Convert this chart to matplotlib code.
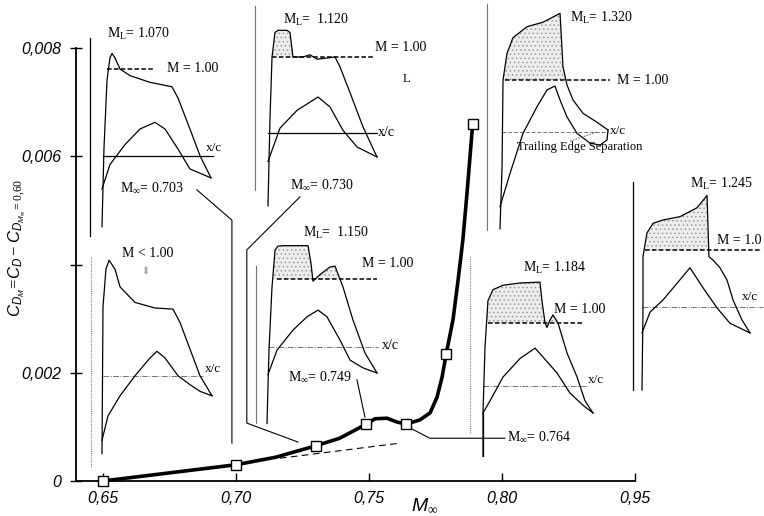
import numpy as np
import matplotlib.pyplot as plt

plt.rcParams['mathtext.fontset'] = 'custom'
plt.rcParams['mathtext.rm'] = 'Liberation Serif'
plt.rcParams['mathtext.it'] = 'Liberation Sans:italic'
plt.rcParams['hatch.linewidth'] = 0.6

# --- drag rise curve (main plot) ---
mach_pts = [0.65, 0.70, 0.73, 0.749, 0.764, 0.779, 0.789]
cdm_pts = [0.0, 0.0003, 0.00065, 0.00105, 0.00105, 0.00234, 0.0066]
mach_fair = [0.65, 0.675, 0.70, 0.715, 0.73, 0.739, 0.749, 0.7523, 0.7568, 0.7605,
             0.764, 0.7692, 0.773, 0.7756, 0.7775, 0.779, 0.7816, 0.7835, 0.7853, 0.787, 0.789]
cdm_fair = [0.0, 0.00015, 0.0003, 0.00044, 0.00065, 0.00079, 0.00105, 0.00115, 0.00116, 0.00109,
            0.00105, 0.00113, 0.00126, 0.00155, 0.00192, 0.00234, 0.00298, 0.00371, 0.00445, 0.0054, 0.0066]
mach_dash = [0.7165, 0.7617]
cdm_dash = [0.00042, 0.0007]
xtick_vals = [0.65, 0.70, 0.75, 0.80, 0.85]
xtick_labels = ['0,65', '0,70', '0,75', '0,80', '0,95']
ytick_vals = [0.0, 0.002, 0.004, 0.006, 0.008]
ytick_labels = ['0', '0,002', '', '0,006', '0,008']

# --- local Mach distributions (x/c, M) ---
# M_inf = 0.703
a_up_xc = [0, 0.018, 0.046, 0.073, 0.092, 0.119, 0.165, 0.257, 0.44, 0.642, 0.697, 0.807, 0.899, 1.0]
a_up_m = [0.29, 0.64, 0.95, 1.05, 1.07, 1.05, 1.0, 0.97, 0.94, 0.92, 0.87, 0.73, 0.61, 0.51]
a_lo_xc = [0, 0.073, 0.211, 0.349, 0.486, 0.578, 0.697, 0.807, 1.0]
a_lo_m = [0.46, 0.57, 0.66, 0.73, 0.76, 0.73, 0.64, 0.55, 0.51]
# M < 1.00 (subcritical)
b_up_xc = [0, 0.009, 0.036, 0.064, 0.118, 0.164, 0.3, 0.482, 0.645, 0.709, 0.8, 0.891, 1.0]
b_up_m = [0.12, 0.78, 0.95, 0.99, 0.95, 0.87, 0.80, 0.775, 0.77, 0.71, 0.59, 0.47, 0.38]
b_lo_xc = [0, 0.055, 0.164, 0.3, 0.436, 0.5, 0.573, 0.691, 0.8, 0.891, 1.0]
b_lo_m = [0.18, 0.29, 0.38, 0.47, 0.55, 0.58, 0.55, 0.47, 0.43, 0.40, 0.38]
# M_inf = 0.730
c_up_xc = [0, 0.018, 0.037, 0.064, 0.092, 0.174, 0.202, 0.229, 0.321, 0.385, 0.45, 0.615, 0.661, 0.752, 0.872, 1.0]
c_up_m = [0.33, 0.72, 1.0, 1.11, 1.12, 1.12, 1.11, 1.0, 1.0, 1.01, 0.99, 1.0, 0.955, 0.84, 0.685, 0.55]
c_lo_xc = [0, 0.11, 0.266, 0.459, 0.569, 0.688, 0.817, 1.0]
c_lo_m = [0.53, 0.68, 0.76, 0.82, 0.775, 0.67, 0.595, 0.55]
# M_inf = 0.749
d_up_xc = [0, 0.018, 0.045, 0.073, 0.1, 0.145, 0.373, 0.4, 0.418, 0.482, 0.573, 0.618, 0.691, 0.782, 0.891, 1.0]
d_up_m = [0.35, 0.68, 0.96, 1.13, 1.148, 1.15, 1.15, 1.07, 0.99, 1.02, 1.054, 1.058, 0.964, 0.815, 0.667, 0.577]
d_lo_xc = [0.009, 0.091, 0.236, 0.364, 0.464, 0.545, 0.664, 0.755, 0.873, 1.0]
d_lo_m = [0.57, 0.68, 0.77, 0.83, 0.86, 0.83, 0.725, 0.635, 0.60, 0.577]
# M_inf = 0.764
e_up_xc = [0, 0, 0.018, 0.045, 0.091, 0.182, 0.336, 0.518, 0.536, 0.564, 0.582, 0.609, 0.636, 0.682, 0.764, 0.855, 0.927, 1.0]
e_up_m = [0.40, 0.595, 0.89, 1.10, 1.15, 1.17, 1.18, 1.184, 1.10, 1.0, 0.98, 1.013, 1.036, 1.0, 0.865, 0.757, 0.65, 0.595]
e_lo_xc = [0, 0.064, 0.182, 0.336, 0.473, 0.545, 0.673, 0.79, 0.909, 1.0]
e_lo_m = [0.595, 0.65, 0.757, 0.84, 0.887, 0.847, 0.775, 0.685, 0.63, 0.595]
# M_L = 1.320 (trailing edge separation)
f_up_xc = [0, 0.019, 0.028, 0.065, 0.12, 0.25, 0.398, 0.556, 0.583, 0.62, 0.676, 0.769, 0.898, 1.0]
f_up_m = [0.33, 0.61, 1.0, 1.12, 1.19, 1.24, 1.26, 1.30, 1.06, 0.978, 0.91, 0.85, 0.81, 0.775]
f_lo_xc = [0, 0.093, 0.213, 0.343, 0.435, 0.509, 0.556, 0.62, 0.713, 0.833, 0.926, 0.991, 1.0]
f_lo_m = [0.43, 0.58, 0.76, 0.88, 0.955, 0.973, 0.91, 0.834, 0.76, 0.716, 0.707, 0.73, 0.775]
# M_L = 1.245
g_up_xc = [0, 0.009, 0.009, 0.046, 0.102, 0.194, 0.352, 0.509, 0.602, 0.62, 0.657, 0.722, 0.787, 0.843, 0.926, 1.0]
g_up_m = [0.37, 0.73, 0.97, 1.077, 1.12, 1.135, 1.15, 1.19, 1.245, 0.97, 0.955, 0.92, 0.865, 0.775, 0.685, 0.627]
g_lo_xc = [0, 0.074, 0.194, 0.324, 0.444, 0.565, 0.694, 0.815, 1.0]
g_lo_m = [0.627, 0.72, 0.775, 0.85, 0.92, 0.83, 0.74, 0.67, 0.627]

# --- figure layout (pixels of a 764x516 canvas) ---
W, H = 764, 516
M_PER_PX = 0.0045  # common Mach scale of the small sketches
SERIF = ['Liberation Serif', 'DejaVu Serif']
SANS = 'Liberation Sans'

fig = plt.figure(figsize=(W / 100, H / 100), dpi=100)
fig.patch.set_facecolor('white')

ax = fig.add_axes([76 / W, 1 - 481 / H, (635 - 76) / W, (481 - 48) / H])
ax.set_xlim(0.6399, 0.85)
ax.set_ylim(0, 0.008)
ax.patch.set_alpha(0)
for s in ['top', 'right']:
    ax.spines[s].set_visible(False)
for s in ['left', 'bottom']:
    ax.spines[s].set_linewidth(1.3)

ax.plot(mach_fair, cdm_fair, color='k', lw=2.6, zorder=3, solid_capstyle='round', clip_on=False)
ax.plot(mach_pts, cdm_pts, 's', ms=7, mfc='white', mec='k', mew=1.0, zorder=4, clip_on=False)
ax.plot(mach_dash, cdm_dash, color='k', lw=0.8, dashes=(6, 4))

# leader lines from the sketch labels to the test points
leaders = [
    ([0.6853, 0.6985, 0.6985], [0.00538, 0.00482, 0.0007]),
    ([0.7241, 0.7041, 0.7041, 0.7233], [0.00525, 0.00427, 0.00107, 0.00072]),
    ([0.7455, 0.7485], [0.00187, 0.00118]),
    ([0.7654, 0.7729, 0.8011], [0.00098, 0.00079, 0.00079]),
]
for lx, ly in leaders:
    ax.plot(lx, ly, color='k', lw=0.8, clip_on=False)

ax.set_xticks(xtick_vals)
ax.set_xticklabels(xtick_labels)
ax.set_yticks(ytick_vals)
ax.set_yticklabels(ytick_labels)
ax.tick_params(axis='x', direction='in', length=6, width=1.0, pad=7)
ax.tick_params(axis='y', direction='inout', length=9, width=1.0, pad=6)
for lab in ax.get_xticklabels() + ax.get_yticklabels():
    lab.set_fontfamily(SANS)
    lab.set_fontstyle('italic')
    lab.set_fontsize(11.5)

fig.text(17 / W, 1 - 248 / H, r'$C_{D_M}\!=\!C_D-C_{D_{M_\infty}\mathit{=0{,}60}}$',
         rotation=90, ha='center', va='center', fontsize=12)
fig.text(425 / W, 1 - 505 / H, r'$M_\infty$', ha='center', va='center', fontsize=14)


def sketch_axes(le, te, m1_px):
    top = m1_px - 0.6 / M_PER_PX
    bot = m1_px + 1.0 / M_PER_PX
    a = fig.add_axes([le / W, 1 - bot / H, (te - le) / W, (bot - top) / H])
    a.set_xlim(0, 1)
    a.set_ylim(0.0, 1.6)
    a.axis('off')
    return a


def sketch(a, up_xc, up_m, lo_xc, lo_m, axis_x, axis_m, axis_kw, xc_m, xc_span, xc_kw,
           sonic_span=None, shade=True):
    a.plot([axis_x, axis_x], axis_m, clip_on=False, **axis_kw)
    a.plot(xc_span, [xc_m, xc_m], clip_on=False, **xc_kw)
    if sonic_span is not None:
        a.plot(sonic_span, [1.0, 1.0], color='k', lw=1.1, dashes=(3, 1.5), clip_on=False)
    if shade:
        ux = np.array(up_xc)
        um = np.array(up_m)
        a.fill_between(ux, um, 1.0, where=um >= 1.0, interpolate=True, facecolor='0.93',
                       edgecolor='0.6', hatch='....', lw=0, clip_on=False)
    a.plot(up_xc, up_m, color='k', lw=0.9, clip_on=False)
    a.plot(lo_xc, lo_m, color='k', lw=0.9, clip_on=False)


def label(a, x, m, s, size=10, **kw):
    a.text(x, m, s, fontsize=size, family=SERIF, ha='left', va='center', **kw)


solid_ax = dict(color='k', lw=0.9)
grey_ax = dict(color='0.45', lw=0.8)
dotted_ax = dict(color='0.5', lw=0.8, dashes=(1, 1))
dashdot = dict(color='0.45', lw=0.7, dashes=(6, 1.5, 1, 1.5))

# M_inf = 0.703
a1 = sketch_axes(102, 211, 69)
sketch(a1, a_up_xc, a_up_m, a_lo_xc, a_lo_m, -0.11, [0.25, 1.14], solid_ax,
       0.61, [0.01, 1.02], dict(color='k', lw=0.9), sonic_span=[0.046, 0.486], shade=False)
label(a1, 0.046, 1.16, r'M$_\mathrm{L}$= 1.070')
label(a1, 0.60, 1.0, 'M = 1.00')
label(a1, 0.95, 0.645, 'x/c', size=9.5)
label(a1, 0.165, 0.465, r'M$_\infty$= 0.703')

# M < 1.00
a2 = sketch_axes(102, 212, 258)
sketch(a2, b_up_xc, b_up_m, b_lo_xc, b_lo_m, -0.1, [0.06, 1.01], dotted_ax,
       0.47, [0.01, 0.92], dashdot, shade=False)
label(a2, 0.18, 1.02, 'M < 1.00')
label(a2, 0.36, 0.94, '\u21d3', size=7, color='0.4')
label(a2, 0.935, 0.50, 'x/c', size=9.5)

# M_inf = 0.730
a3 = sketch_axes(268, 377, 57)
sketch(a3, c_up_xc, c_up_m, c_lo_xc, c_lo_m, -0.12, [0.40, 1.23], grey_ax,
       0.658, [0.0, 1.0], dict(color='k', lw=0.9), sonic_span=[0.037, 0.963])
label(a3, 0.138, 1.167, r'M$_\mathrm{L}$=  1.120')
label(a3, 0.982, 1.045, 'M = 1.00')
label(a3, 1.24, 0.90, 'L', size=9)
label(a3, 1.01, 0.658, 'x/c')
label(a3, 0.2, 0.424, r'M$_\infty$= 0.730')

# M_inf = 0.749
a4 = sketch_axes(267, 377, 279)
sketch(a4, d_up_xc, d_up_m, d_lo_xc, d_lo_m, -0.1, [0.35, 1.06], grey_ax,
       0.694, [0.009, 1.01], dashdot, sonic_span=[0.09, 1.0])
label(a4, 0.327, 1.21, r'M$_\mathrm{L}$=  1.150')
label(a4, 0.864, 1.07, 'M = 1.00')
label(a4, 1.045, 0.70, 'x/c')
label(a4, 0.19, 0.56, r'M$_\infty$= 0.749')

# M_inf = 0.764
a5 = sketch_axes(483, 593, 323)
sketch(a5, e_up_xc, e_up_m, e_lo_xc, e_lo_m, -0.118, [0.505, 1.30], dotted_ax,
       0.716, [0.0, 0.955], dashdot, sonic_span=[0.045, 0.909])
a5.plot([0, 0], [0.40, 0.595], color='k', lw=0.9, clip_on=False)
label(a5, 0.364, 1.25, r'M$_\mathrm{L}$= 1.184')
label(a5, 0.65, 1.06, 'M = 1.00')
label(a5, 0.955, 0.745, 'x/c', size=9.5)
label(a5, 0.218, 0.487, r'M$_\infty$= 0.764')

# M_L = 1.320
a6 = sketch_axes(500, 608, 80)
sketch(a6, f_up_xc, f_up_m, f_lo_xc, f_lo_m, -0.12, [0.325, 1.34], grey_ax,
       0.766, [0.019, 1.0], dict(color='0.45', lw=0.7, dashes=(4, 2)), sonic_span=[0.046, 1.02])
a6.plot([0.648, 0.898], [0.725, 0.766], color='0.35', lw=0.7, dashes=(1.5, 1.5), clip_on=False)
label(a6, 0.648, 1.28, r'M$_\mathrm{L}$= 1.320')
label(a6, 1.083, 1.0, 'M = 1.00')
label(a6, 1.02, 0.77, 'x/c', size=9.5)
label(a6, 0.157, 0.70, 'Trailing Edge Separation', size=9)

# M_L = 1.245
a7 = sketch_axes(642, 750, 250)
sketch(a7, g_up_xc, g_up_m, g_lo_xc, g_lo_m, -0.083, [0.37, 1.306], solid_ax,
       0.744, [0.0, 1.12], dashdot, sonic_span=[0.028, 1.11])
label(a7, 0.444, 1.30, r'M$_\mathrm{L}$= 1.245')
label(a7, 0.694, 1.045, 'M = 1.0')
label(a7, 0.926, 0.79, 'x/c', size=9.5)

fig.savefig('out.png', dpi=100)
